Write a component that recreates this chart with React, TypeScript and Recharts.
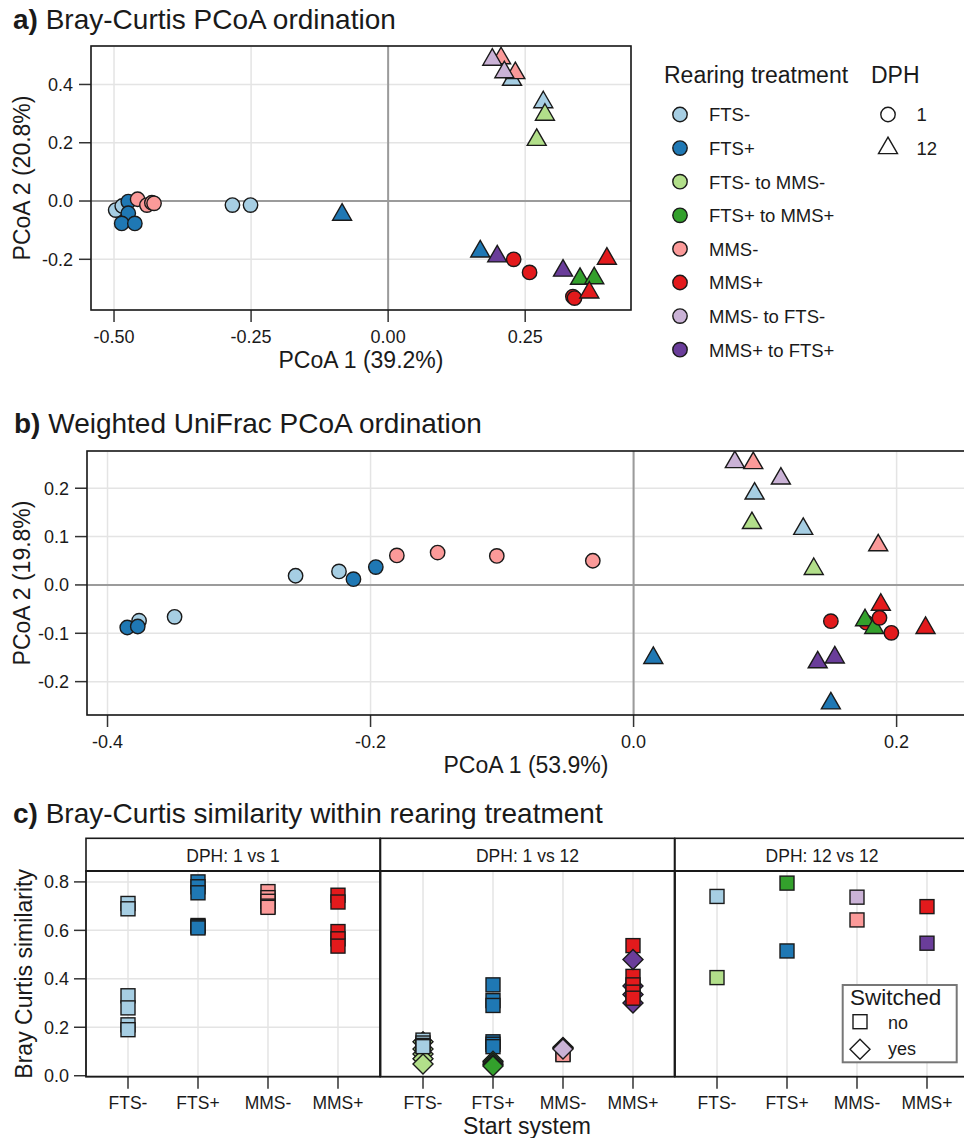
import React from "react";
import { ScatterChart, Scatter, XAxis, YAxis, CartesianGrid, ReferenceLine } from "recharts";

const FONT = '"Liberation Sans", Arial, Helvetica, sans-serif';
const INK = "#1a1a1a";
const GRID = "#e4e4e4";
const ZERO = "#9b9b9b";

// rearing treatments (legend order) and their fills
const treatments = ["FTS-", "FTS+", "FTS- to MMS-", "FTS+ to MMS+", "MMS-", "MMS+", "MMS- to FTS-", "MMS+ to FTS+"];
const treatmentColors = ["#a6cee3", "#1f78b4", "#b2df8a", "#33a02c", "#fb9a99", "#e31a1c", "#cab2d6", "#6a3d9a"];
const dphLevels = [1, 12];

// [treatment, DPH, PCoA 1, PCoA 2]
type Sample = [string, number, number, number];

const braySamples: Sample[] = [
  ["FTS-", 1, -0.497, -0.031], ["FTS-", 1, -0.485, -0.017], ["FTS-", 1, -0.284, -0.014], ["FTS-", 1, -0.251, -0.014],
  ["FTS-", 12, 0.226, 0.416], ["FTS-", 12, 0.283, 0.339],
  ["FTS+", 1, -0.474, -0.002], ["FTS+", 1, -0.474, -0.042], ["FTS+", 1, -0.486, -0.077], ["FTS+", 1, -0.462, -0.077],
  ["FTS+", 12, -0.084, -0.047], ["FTS+", 12, 0.168, -0.173],
  ["FTS- to MMS-", 12, 0.286, 0.296], ["FTS- to MMS-", 12, 0.271, 0.21],
  ["FTS+ to MMS+", 12, 0.35, -0.267], ["FTS+ to MMS+", 12, 0.376, -0.265],
  ["MMS-", 1, -0.457, 0.006], ["MMS-", 1, -0.44, -0.014], ["MMS-", 1, -0.431, -0.006], ["MMS-", 1, -0.427, -0.008],
  ["MMS-", 12, 0.206, 0.49], ["MMS-", 12, 0.232, 0.439],
  ["MMS+", 1, 0.229, -0.2], ["MMS+", 1, 0.258, -0.245], ["MMS+", 1, 0.337, -0.328], ["MMS+", 1, 0.34, -0.333],
  ["MMS+", 12, 0.367, -0.314], ["MMS+", 12, 0.399, -0.198],
  ["MMS- to FTS-", 12, 0.19, 0.485], ["MMS- to FTS-", 12, 0.212, 0.442],
  ["MMS+ to FTS+", 12, 0.199, -0.19], ["MMS+ to FTS+", 12, 0.319, -0.239],
];

const unifracSamples: Sample[] = [
  ["FTS-", 1, -0.376, -0.074], ["FTS-", 1, -0.349, -0.066], ["FTS-", 1, -0.257, 0.019], ["FTS-", 1, -0.224, 0.028],
  ["FTS-", 12, 0.092, 0.189], ["FTS-", 12, 0.129, 0.116],
  ["FTS+", 1, -0.385, -0.088], ["FTS+", 1, -0.377, -0.086], ["FTS+", 1, -0.213, 0.012], ["FTS+", 1, -0.196, 0.037],
  ["FTS+", 12, 0.015, -0.151], ["FTS+", 12, 0.15, -0.245],
  ["FTS- to MMS-", 12, 0.09, 0.128], ["FTS- to MMS-", 12, 0.137, 0.033],
  ["MMS-", 1, -0.18, 0.061], ["MMS-", 1, -0.149, 0.067], ["MMS-", 1, -0.104, 0.06], ["MMS-", 1, -0.031, 0.05],
  ["MMS-", 12, 0.091, 0.252], ["MMS-", 12, 0.186, 0.082],
  ["MMS+", 1, 0.15, -0.075], ["MMS+", 1, 0.177, -0.078],
  ["FTS+ to MMS+", 12, 0.176, -0.073], ["FTS+ to MMS+", 12, 0.183, -0.089],
  ["MMS+", 1, 0.187, -0.068], ["MMS+", 1, 0.196, -0.099],
  ["MMS+", 12, 0.188, -0.041], ["MMS+", 12, 0.222, -0.089],
  ["MMS- to FTS-", 12, 0.077, 0.254], ["MMS- to FTS-", 12, 0.112, 0.22],
  ["MMS+ to FTS+", 12, 0.14, -0.16], ["MMS+ to FTS+", 12, 0.153, -0.15],
];

// Bray-Curtis similarity within rearing treatment: [start system, treatment, switched, similarity]
type Pair = [string, string, boolean, number];
const startSystems = ["FTS-", "FTS+", "MMS-", "MMS+"];
const facetLabels = ["DPH: 1 vs 1", "DPH: 1 vs 12", "DPH: 12 vs 12"];

const sim1vs1: Pair[] = [
  ["FTS-", "FTS-", false, 0.711], ["FTS-", "FTS-", false, 0.689], ["FTS-", "FTS-", false, 0.33],
  ["FTS-", "FTS-", false, 0.28], ["FTS-", "FTS-", false, 0.21], ["FTS-", "FTS-", false, 0.19],
  ["FTS+", "FTS+", false, 0.8], ["FTS+", "FTS+", false, 0.78], ["FTS+", "FTS+", false, 0.755],
  ["FTS+", "FTS+", false, 0.62], ["FTS+", "FTS+", false, 0.615], ["FTS+", "FTS+", false, 0.61],
  ["MMS-", "MMS-", false, 0.76], ["MMS-", "MMS-", false, 0.735], ["MMS-", "MMS-", false, 0.72],
  ["MMS-", "MMS-", false, 0.7], ["MMS-", "MMS-", false, 0.695],
  ["MMS+", "MMS+", false, 0.745], ["MMS+", "MMS+", false, 0.717], ["MMS+", "MMS+", false, 0.595],
  ["MMS+", "MMS+", false, 0.565], ["MMS+", "MMS+", false, 0.535],
];

const sim1vs12: Pair[] = [
  ["FTS-", "FTS- to MMS-", true, 0.14], ["FTS-", "FTS- to MMS-", true, 0.11], ["FTS-", "FTS- to MMS-", true, 0.09],
  ["FTS-", "FTS- to MMS-", true, 0.07], ["FTS-", "FTS- to MMS-", true, 0.048],
  ["FTS-", "FTS-", false, 0.147], ["FTS-", "FTS-", false, 0.135], ["FTS-", "FTS-", false, 0.125], ["FTS-", "FTS-", false, 0.12],
  ["FTS+", "FTS+", false, 0.375], ["FTS+", "FTS+", false, 0.31], ["FTS+", "FTS+", false, 0.29],
  ["FTS+", "FTS+", false, 0.14], ["FTS+", "FTS+", false, 0.13], ["FTS+", "FTS+", false, 0.12],
  ["FTS+", "FTS+ to MMS+", true, 0.06], ["FTS+", "FTS+ to MMS+", true, 0.052],
  ["FTS+", "FTS+ to MMS+", true, 0.045], ["FTS+", "FTS+ to MMS+", true, 0.04],
  ["MMS-", "MMS-", false, 0.09], ["MMS-", "MMS-", false, 0.087],
  ["MMS-", "MMS- to FTS-", true, 0.117], ["MMS-", "MMS- to FTS-", true, 0.113], ["MMS-", "MMS- to FTS-", true, 0.11],
  ["MMS+", "MMS+ to FTS+", true, 0.37], ["MMS+", "MMS+ to FTS+", true, 0.335], ["MMS+", "MMS+ to FTS+", true, 0.3],
  ["MMS+", "MMS+", false, 0.537], ["MMS+", "MMS+", false, 0.41], ["MMS+", "MMS+", false, 0.375],
  ["MMS+", "MMS+", false, 0.345], ["MMS+", "MMS+", false, 0.32],
  ["MMS+", "MMS+ to FTS+", true, 0.48],
];

const sim12vs12: Pair[] = [
  ["FTS-", "FTS-", false, 0.74], ["FTS-", "FTS- to MMS-", false, 0.405],
  ["FTS+", "FTS+ to MMS+", false, 0.795], ["FTS+", "FTS+", false, 0.515],
  ["MMS-", "MMS- to FTS-", false, 0.737], ["MMS-", "MMS-", false, 0.643],
  ["MMS+", "MMS+", false, 0.698], ["MMS+", "MMS+ to FTS+", false, 0.547],
];
const simFacets = [sim1vs1, sim1vs12, sim12vs12];

const brayXTicks = [-0.5, -0.25, 0, 0.25];
const brayYTicks = [-0.2, 0, 0.2, 0.4];
const unifracXTicks = [-0.4, -0.2, 0, 0.2];
const unifracYTicks = [-0.2, -0.1, 0, 0.1, 0.2];
const simYTicks = [0, 0.2, 0.4, 0.6, 0.8];

const colorOf = (t: string) => treatmentColors[treatments.indexOf(t)];

type Rect = { x: number; y: number; w: number; h: number };
const rectA: Rect = { x: 91, y: 46, w: 540, h: 264 };
const rectB: Rect = { x: 87, y: 451, w: 878, h: 264 };
const facetXs = [86, 380.5, 675];
const facetW = 294;
const facetTop = 871;
const facetH = 205.7;
const stripTop = 838.3;

const AX_W = 80;
const AX_H = 50;
const PAD = 10;

function frame(rect: Rect, withYAxis: boolean) {
  const yw = withYAxis ? AX_W : 0;
  return {
    style: { position: "absolute" as const, left: rect.x - yw, top: rect.y - PAD },
    width: yw + rect.w + PAD,
    height: PAD + rect.h + AX_H,
    margin: { top: PAD, right: PAD, bottom: 0, left: 0 },
    yw,
  };
}

const axisStyle = {
  axisLine: false,
  tickSize: 12,
  tickLine: { stroke: "#333", strokeWidth: 1.5 },
};

function Marker({ kind, cx, cy, fill }: { kind: string; cx: number; cy: number; fill: string }) {
  if (cx == null || cy == null) return null;
  const common = { fill, stroke: INK, strokeWidth: 1.4 };
  if (kind === "circle") return <circle cx={cx} cy={cy} r={7.2} {...common} />;
  if (kind === "triangle")
    return <polygon points={`${cx},${cy - 11} ${cx + 9.5},${cy + 5.5} ${cx - 9.5},${cy + 5.5}`} {...common} />;
  if (kind === "square") return <rect x={cx - 7} y={cy - 7} width={14} height={14} {...common} />;
  return <polygon points={`${cx},${cy - 10} ${cx + 10},${cy} ${cx},${cy + 10} ${cx - 10},${cy}`} {...common} />;
}

function PcoaChart({ rect, samples, xDomain, yDomain, xTicks, yTicks, xDigits }: {
  rect: Rect; samples: Sample[]; xDomain: [number, number]; yDomain: [number, number];
  xTicks: number[]; yTicks: number[]; xDigits: number;
}) {
  const f = frame(rect, true);
  const data = samples.map(([treatment, dph, x, y]) => ({ treatment, dph, x, y }));
  return (
    <div style={f.style}>
      <ScatterChart width={f.width} height={f.height} margin={f.margin}>
        <CartesianGrid stroke={GRID} strokeWidth={1.5} />
        <XAxis type="number" dataKey="x" domain={xDomain} ticks={xTicks} allowDataOverflow height={AX_H}
          tickFormatter={(v: number) => v.toFixed(xDigits)} tick={{ fontSize: 18, fill: INK }} tickMargin={8} {...axisStyle} />
        <YAxis type="number" dataKey="y" domain={yDomain} ticks={yTicks} allowDataOverflow width={AX_W}
          tickFormatter={(v: number) => v.toFixed(1)} tick={{ fontSize: 18, fill: INK }} tickMargin={6} {...axisStyle} />
        <ReferenceLine x={0} stroke={ZERO} strokeWidth={2} />
        <ReferenceLine y={0} stroke={ZERO} strokeWidth={2} />
        <Scatter data={data} isAnimationActive={false}
          shape={(p: any) => (
            <Marker kind={p.payload.dph === dphLevels[0] ? "circle" : "triangle"} cx={p.cx} cy={p.cy} fill={colorOf(p.payload.treatment)} />
          )} />
      </ScatterChart>
    </div>
  );
}

function SimilarityFacet({ index }: { index: number }) {
  const rect = { x: facetXs[index], y: facetTop, w: facetW, h: facetH };
  const first = index === 0;
  const f = frame(rect, first);
  const data = simFacets[index].map(([start, treatment, switched, value]) => ({
    x: startSystems.indexOf(start) + 1, y: value, treatment, switched,
  }));
  return (
    <div style={f.style}>
      <ScatterChart width={f.width} height={f.height} margin={f.margin}>
        <CartesianGrid stroke={GRID} strokeWidth={1.5} />
        <XAxis type="number" dataKey="x" domain={[0.4, 4.6]} ticks={[1, 2, 3, 4]} allowDataOverflow height={AX_H}
          tickFormatter={(v: number) => startSystems[v - 1]} tick={{ fontSize: 17.5, fill: INK }} tickMargin={8} {...axisStyle} />
        <YAxis type="number" dataKey="y" domain={[-0.004, 0.845]} ticks={simYTicks} allowDataOverflow width={f.yw}
          tickFormatter={(v: number) => v.toFixed(1)} tick={first ? { fontSize: 18, fill: INK } : false}
          tickMargin={5} {...axisStyle} tickLine={first ? axisStyle.tickLine : false} />
        <Scatter data={data} isAnimationActive={false}
          shape={(p: any) => (
            <Marker kind={p.payload.switched ? "diamond" : "square"} cx={p.cx} cy={p.cy} fill={colorOf(p.payload.treatment)} />
          )} />
      </ScatterChart>
    </div>
  );
}

function Overlay() {
  const legendTop = 114.5;
  const legendStep = 33.6;
  return (
    <svg width={964} height={1138} style={{ position: "absolute", left: 0, top: 0, pointerEvents: "none" }}
      fontFamily={FONT} fill={INK}>
      {/* panel titles */}
      <text x={13} y={29} fontSize={28}><tspan fontWeight="bold">a)</tspan> Bray-Curtis PCoA ordination</text>
      <text x={14} y={433} fontSize={28}><tspan fontWeight="bold">b)</tspan> Weighted UniFrac PCoA ordination</text>
      <text x={13} y={823} fontSize={28}><tspan fontWeight="bold">c)</tspan> Bray-Curtis similarity within rearing treatment</text>

      {/* panel a */}
      <rect x={rectA.x} y={rectA.y} width={rectA.w} height={rectA.h} fill="none" stroke={INK} strokeWidth={1.6} />
      <text x={rectA.x + rectA.w / 2} y={368} fontSize={23} textAnchor="middle">PCoA 1 (39.2%)</text>
      <text transform={`translate(30 ${rectA.y + rectA.h / 2}) rotate(-90)`} fontSize={23} textAnchor="middle">PCoA 2 (20.8%)</text>

      {/* legend a */}
      <text x={664} y={82.5} fontSize={23}>Rearing treatment</text>
      <text x={871} y={82.5} fontSize={23}>DPH</text>
      {treatments.map((t, i) => (
        <g key={t}>
          <circle cx={680} cy={legendTop + i * legendStep} r={7.2} fill={treatmentColors[i]} stroke={INK} strokeWidth={1.4} />
          <text x={709} y={legendTop + i * legendStep + 6.8} fontSize={18.5}>{t}</text>
        </g>
      ))}
      <circle cx={888} cy={legendTop} r={7.2} fill="none" stroke={INK} strokeWidth={1.4} />
      <text x={916.5} y={legendTop + 6.8} fontSize={18.5}>{dphLevels[0]}</text>
      <polygon points={`888,${legendTop + legendStep - 11} 897.5,${legendTop + legendStep + 5.5} 878.5,${legendTop + legendStep + 5.5}`}
        fill="none" stroke={INK} strokeWidth={1.4} />
      <text x={916.5} y={legendTop + legendStep + 6.8} fontSize={18.5}>{dphLevels[1]}</text>

      {/* panel b */}
      <rect x={rectB.x} y={rectB.y} width={rectB.w} height={rectB.h} fill="none" stroke={INK} strokeWidth={1.6} />
      <text x={rectB.x + rectB.w / 2} y={773} fontSize={23} textAnchor="middle">PCoA 1 (53.9%)</text>
      <text transform={`translate(30 ${rectB.y + rectB.h / 2}) rotate(-90)`} fontSize={23} textAnchor="middle">PCoA 2 (19.8%)</text>

      {/* panel c facets and strips */}
      {facetXs.map((x, i) => (
        <g key={i}>
          <rect x={x} y={stripTop} width={facetW} height={facetTop - stripTop} fill="#fff" stroke={INK} strokeWidth={1.6} />
          <line x1={x} x2={x + facetW} y1={facetTop} y2={facetTop} stroke={INK} strokeWidth={2.2} />
          <text x={x + facetW / 2} y={862} fontSize={17.5} textAnchor="middle">{facetLabels[i]}</text>
          <rect x={x} y={facetTop} width={facetW} height={facetH} fill="none" stroke={INK} strokeWidth={1.8} />
        </g>
      ))}
      <text x={527} y={1133.5} fontSize={23} textAnchor="middle">Start system</text>
      <text transform={`translate(31.5 ${facetTop + facetH / 2}) rotate(-90)`} fontSize={23} textAnchor="middle">Bray Curtis similarity</text>

      {/* switched legend */}
      <rect x={842.7} y={985} width={114} height={77.3} fill="#fff" stroke="#777" strokeWidth={2} />
      <text x={850} y={1005} fontSize={22.5}>Switched</text>
      <rect x={853} y={1014.7} width={14} height={14} fill="none" stroke={INK} strokeWidth={1.4} />
      <text x={888} y={1028.5} fontSize={18}>no</text>
      <polygon points="860,1039.3 870,1049.3 860,1059.3 850,1049.3" fill="none" stroke={INK} strokeWidth={1.4} />
      <text x={888} y={1055} fontSize={18}>yes</text>
    </svg>
  );
}

export default function App() {
  return (
    <div style={{ position: "absolute", left: 0, top: 0, width: 964, height: 1138, overflow: "hidden", background: "#fff", fontFamily: FONT }}>
      <PcoaChart rect={rectA} samples={braySamples} xDomain={[-0.542, 0.443]} yDomain={[-0.374, 0.532]}
        xTicks={brayXTicks} yTicks={brayYTicks} xDigits={2} />
      <PcoaChart rect={rectB} samples={unifracSamples} xDomain={[-0.4156, 0.252]} yDomain={[-0.269, 0.277]}
        xTicks={unifracXTicks} yTicks={unifracYTicks} xDigits={1} />
      {facetXs.map((_, i) => <SimilarityFacet key={i} index={i} />)}
      <Overlay />
    </div>
  );
}
